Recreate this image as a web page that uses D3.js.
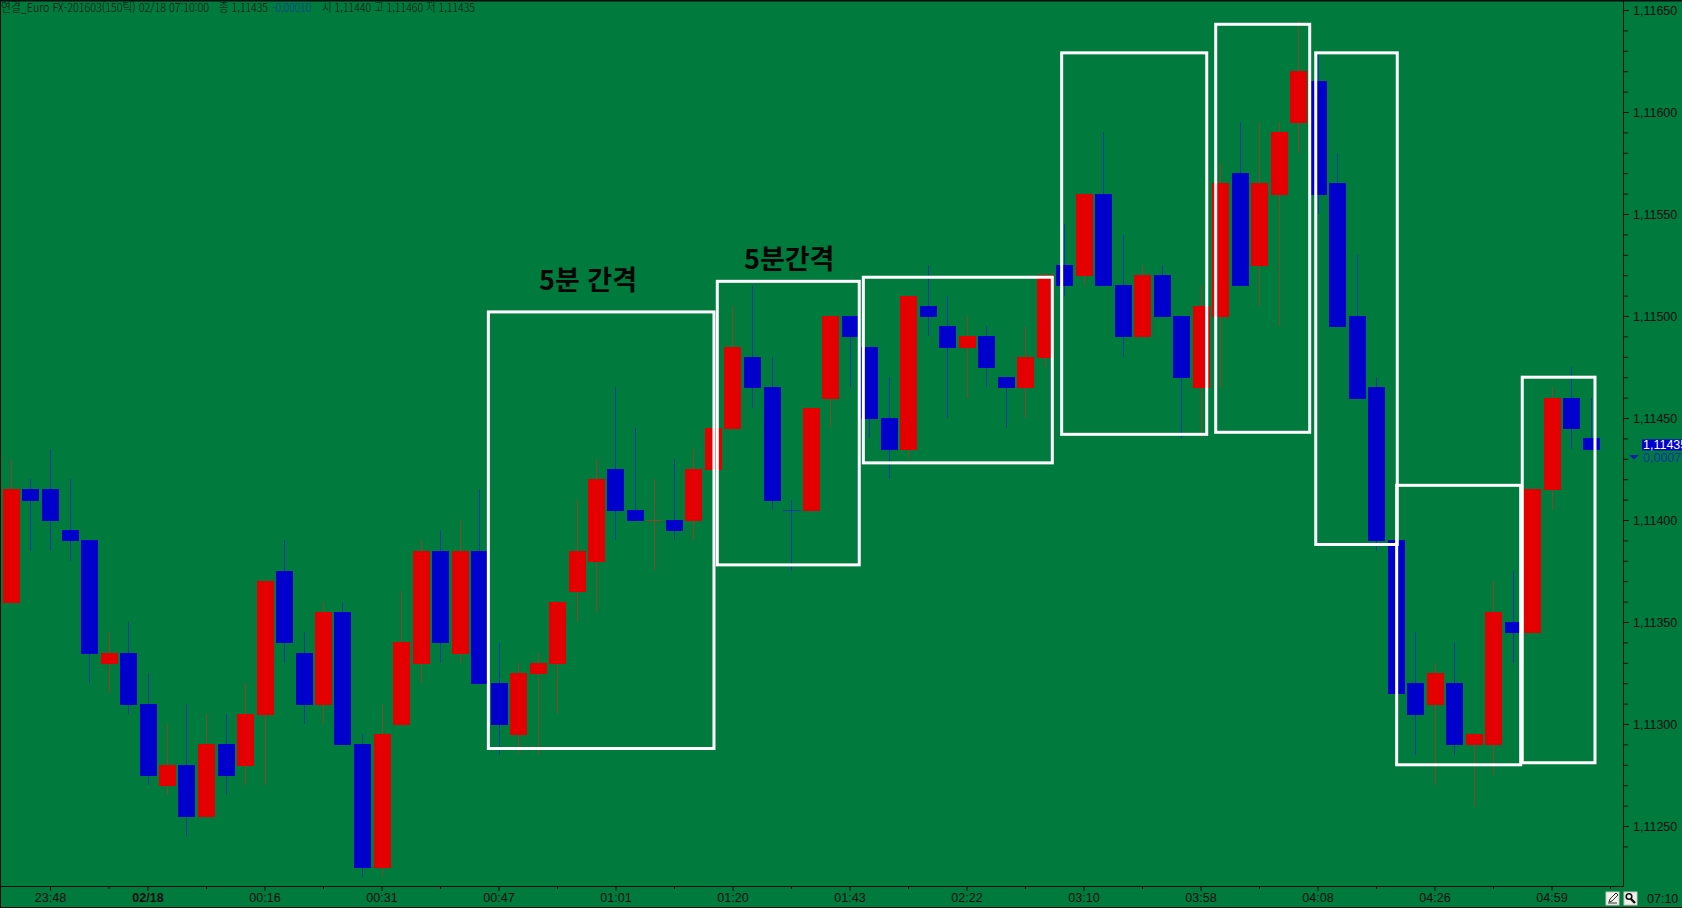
<!DOCTYPE html>
<html lang="ko">
<head>
<meta charset="utf-8">
<script src="https://cdn.jsdelivr.net/npm/d3@7/dist/d3.min.js"></script>
<style>
html,body{margin:0;padding:0;background:#007a3d;overflow:hidden}
svg{display:block}
text{font-family:"Liberation Sans Narrow","Liberation Sans",sans-serif;font-size:12.5px;fill:#0d0d0d}
.hdr{font-family:"Noto Sans CJK KR","Liberation Sans Narrow",sans-serif;font-size:12px;font-weight:300}
.note{font-family:"Noto Sans CJK KR",sans-serif;font-weight:700;font-size:27px;fill:#050505}
</style>
</head>
<body>
<svg id="chart" width="1682" height="908"></svg>
<script>
const opens  = [1.11360,1.11415,1.11415,1.11395,1.11390,1.11330,1.11335,1.11310,1.11270,1.11280,1.11255,1.11290,1.11280,1.11305,1.11375,1.11335,1.11310,1.11355,1.11290,1.11230,1.11300,1.11330,1.11385,1.11335,1.11385,1.11320,1.11295,1.11325,1.11330,1.11365,1.11380,1.11425,1.11405,1.11400,1.11400,1.11400,1.11425,1.11445,1.11480,1.11465,1.11405,1.11405,1.11460,1.11500,1.11485,1.11450,1.11435,1.11505,1.11495,1.11485,1.11490,1.11470,1.11465,1.11480,1.11525,1.11520,1.11560,1.11515,1.11490,1.11520,1.11500,1.11465,1.11500,1.11570,1.11525,1.11560,1.11595,1.11615,1.11565,1.11500,1.11465,1.11390,1.11320,1.11310,1.11320,1.11290,1.11290,1.11350,1.11345,1.11415,1.11460,1.11440];
const highs  = [1.11430,1.11420,1.11435,1.11420,1.11390,1.11345,1.11350,1.11325,1.11300,1.11310,1.11305,1.11305,1.11320,1.11370,1.11390,1.11345,1.11360,1.11360,1.11295,1.11310,1.11365,1.11390,1.11395,1.11400,1.11415,1.11340,1.11330,1.11335,1.11360,1.11410,1.11430,1.11465,1.11445,1.11420,1.11430,1.11435,1.11445,1.11505,1.11515,1.11480,1.11410,1.11455,1.11500,1.11500,1.11485,1.11470,1.11510,1.11525,1.11510,1.11500,1.11495,1.11470,1.11495,1.11520,1.11545,1.11560,1.11590,1.11540,1.11525,1.11525,1.11500,1.11515,1.11575,1.11595,1.11595,1.11595,1.11645,1.11630,1.11580,1.11530,1.11470,1.11420,1.11345,1.11330,1.11340,1.11295,1.11370,1.11375,1.11415,1.11465,1.11475,1.11460];
const lows   = [1.11360,1.11385,1.11385,1.11380,1.11320,1.11315,1.11305,1.11270,1.11265,1.11245,1.11255,1.11265,1.11270,1.11270,1.11330,1.11300,1.11300,1.11290,1.11225,1.11225,1.11300,1.11320,1.11330,1.11330,1.11320,1.11285,1.11285,1.11285,1.11305,1.11350,1.11355,1.11390,1.11400,1.11375,1.11390,1.11390,1.11425,1.11445,1.11455,1.11405,1.11375,1.11405,1.11445,1.11465,1.11440,1.11420,1.11430,1.11490,1.11450,1.11460,1.11465,1.11445,1.11450,1.11475,1.11510,1.11515,1.11515,1.11480,1.11490,1.11500,1.11440,1.11440,1.11465,1.11515,1.11505,1.11495,1.11580,1.11550,1.11495,1.11460,1.11385,1.11315,1.11285,1.11270,1.11285,1.11260,1.11275,1.11330,1.11345,1.11405,1.11435,1.11435];
const closes = [1.11415,1.11410,1.11400,1.11390,1.11335,1.11335,1.11310,1.11275,1.11280,1.11255,1.11290,1.11275,1.11305,1.11370,1.11340,1.11310,1.11355,1.11290,1.11230,1.11295,1.11340,1.11385,1.11340,1.11385,1.11320,1.11300,1.11325,1.11330,1.11360,1.11385,1.11420,1.11405,1.11400,1.11400,1.11395,1.11425,1.11445,1.11485,1.11465,1.11410,1.11405,1.11455,1.11500,1.11490,1.11450,1.11435,1.11510,1.11500,1.11485,1.11490,1.11475,1.11465,1.11480,1.11520,1.11515,1.11560,1.11515,1.11490,1.11520,1.11500,1.11470,1.11505,1.11565,1.11515,1.11565,1.11590,1.11620,1.11560,1.11495,1.11460,1.11390,1.11315,1.11305,1.11325,1.11290,1.11295,1.11355,1.11345,1.11415,1.11460,1.11445,1.11435];
const fallingDoji = [40];

const priceTickValues = [1.1165,1.116,1.1155,1.115,1.1145,1.114,1.1135,1.113,1.1125];
const priceTickLabels = ["1,11650","1,11600","1,11550","1,11500","1,11450","1,11400","1,11350","1,11300","1,11250"];
const timeTickSlots  = [2,7,13,19,25,31,37,43,49,55,61,67,73,79];
const timeTickLabels = ["23:48","02/18","00:16","00:31","00:47","01:01","01:20","01:43","02:22","03:10","03:58","04:08","04:26","04:59"];
const minorTimeSlots = [5,10,16,22,28,34,40,46,52,58,64,70,76,82];

// annotation rectangles: first slot, last slot, top price, bottom price
const boxes = [
  [24.48,36.05,1.11502,1.11288],
  [36.22,43.50,1.11517,1.11378],
  [43.71,53.40,1.11519,1.11428],
  [53.88,61.32,1.11629,1.11442],
  [61.78,66.60,1.11643,1.11443],
  [66.91,71.09,1.11629,1.11388],
  [71.06,77.42,1.11417,1.11280],
  [77.50,81.23,1.11470,1.11281]
];

const COL = {bg:"#007a3d", up:"#e40000", upEdge:"#b22a10", down:"#0000cc",
             upWick:"#7e4a2a", downWick:"#0a3ca8", ink:"#0d0d0d", box:"#ffffff"};

const svg = d3.select("#chart");
const x = d3.scaleLinear().domain([0,81]).range([11,1590.5]);
const y = d3.scaleLinear().domain([1.114,1.1165]).range([520,10]);
const BODY = 17, FRAME_R = 1623, FRAME_B = 886;

svg.append("rect").attr("width",1682).attr("height",908).attr("fill",COL.bg);

const candles = opens.map((o,i)=>({i,o,h:highs[i],l:lows[i],c:closes[i],
  up: closes[i] > o || (closes[i] === o && !fallingDoji.includes(i))}));

const g = svg.append("g");
g.selectAll("line.wick").data(candles).join("line").attr("class","wick")
  .attr("x1",d=>Math.round(x(d.i))+.5).attr("x2",d=>Math.round(x(d.i))+.5)
  .attr("y1",d=>Math.round(y(d.h))).attr("y2",d=>Math.round(y(d.l)))
  .attr("stroke",d=>d.up?COL.upWick:COL.downWick).attr("stroke-width",1);

g.selectAll("rect.body").data(candles).join("rect").attr("class","body")
  .attr("x",d=>Math.round(x(d.i))-8)
  .attr("width",BODY)
  .attr("y",d=>Math.round(y(Math.max(d.o,d.c))))
  .attr("height",d=>d.o===d.c?0:Math.round(y(Math.min(d.o,d.c)))-Math.round(y(Math.max(d.o,d.c)))+1)
  .attr("fill",d=>d.up?COL.up:COL.down);

// doji crossbars
g.selectAll("line.doji").data(candles.filter(d=>d.o===d.c)).join("line").attr("class","doji")
  .attr("x1",d=>Math.round(x(d.i))-8).attr("x2",d=>Math.round(x(d.i))+9)
  .attr("y1",d=>Math.round(y(d.o))+.5).attr("y2",d=>Math.round(y(d.o))+.5)
  .attr("stroke",d=>d.up?COL.upWick:COL.downWick);

// annotation boxes
svg.append("g").selectAll("rect").data(boxes).join("rect")
  .attr("x",d=>x(d[0])).attr("width",d=>x(d[1])-x(d[0]))
  .attr("y",d=>y(d[2])).attr("height",d=>y(d[3])-y(d[2]))
  .attr("fill","none").attr("stroke",COL.box).attr("stroke-width",3);

svg.append("text").attr("class","note").attr("x",539).attr("y",290).text("5분 간격");
svg.append("text").attr("class","note").attr("x",744).attr("y",269).text("5분간격");

// right price axis
const priceAxis = svg.append("g").attr("transform",`translate(${FRAME_R},0)`)
  .call(d3.axisRight(y).tickValues(priceTickValues)
    .tickFormat((d,i)=>priceTickLabels[i]).tickSize(6).tickPadding(4));
priceAxis.select(".domain").remove();
priceAxis.selectAll("line").attr("stroke",COL.ink);
priceAxis.selectAll("text").attr("fill",COL.ink).attr("dy","0.32em");
const minorPrices = d3.range(1.1124,1.11655,0.0001).filter(v=>y(v)<FRAME_B && Math.round(v*1e5)%50!==0);
svg.append("g").attr("transform",`translate(${FRAME_R},0)`)
  .call(d3.axisRight(y).tickValues(minorPrices).tickFormat("").tickSize(5))
  .call(s=>s.select(".domain").remove())
  .selectAll("line").attr("stroke",COL.ink);

// bottom time axis
const timeAxis = svg.append("g").attr("transform",`translate(0,${FRAME_B})`)
  .call(d3.axisBottom(x).tickValues(timeTickSlots)
    .tickFormat((d,i)=>timeTickLabels[i]).tickSize(5).tickPadding(2));
timeAxis.select(".domain").remove();
timeAxis.selectAll("line").attr("stroke",COL.ink);
timeAxis.selectAll("text").attr("fill",COL.ink)
  .style("font-weight",(d,i)=>timeTickLabels[i]==="02/18"?"bold":"normal");
svg.append("g").attr("transform",`translate(0,${FRAME_B})`)
  .call(d3.axisBottom(x).tickValues(minorTimeSlots).tickFormat("").tickSize(3))
  .call(s=>s.select(".domain").remove())
  .selectAll("line").attr("stroke",COL.ink);

// frame
const frame = [[0,0,1682,0],[0.5,0,0.5,908],[0,FRAME_B+.5,FRAME_R,FRAME_B+.5],[FRAME_R+.5,0,FRAME_R+.5,FRAME_B+1],[0,907.5,1682,907.5]];
svg.append("g").selectAll("line").data(frame).join("line")
  .attr("x1",d=>d[0]).attr("y1",d=>d[1]).attr("x2",d=>d[2]).attr("y2",d=>d[3])
  .attr("stroke",COL.ink).attr("stroke-width",(d,i)=>i===0?3:1);

// header
const header = [
  {t:"연결_Euro FX-201603(150틱) 02/18 07:10:00",x:1,w:208,c:COL.ink},
  {t:"종 1,11435",x:219,w:49,c:COL.ink},
  {t:"-0,00010",x:272,w:39,c:"#003aa0"},
  {t:"시 1,11440 고 1,11460 저 1,11435",x:322,w:153,c:COL.ink}
];
svg.append("g").selectAll("text").data(header).join("text").attr("class","hdr")
  .attr("x",d=>d.x).attr("y",12).attr("textLength",d=>d.w).attr("lengthAdjust","spacingAndGlyphs")
  .style("fill",d=>d.c).text(d=>d.t);

// last-price marker
const lastY = y(closes[closes.length-1]);
svg.append("rect").attr("x",1642).attr("width",40).attr("y",y(opens[opens.length-1])+1).attr("height",11).attr("fill",COL.down);
svg.append("text").attr("x",1643).attr("y",y(opens[opens.length-1])+11).style("fill","#fff").text("1,11435");
svg.append("text").attr("x",1643).attr("y",lastY+13).style("fill","#0030b0").text("0,00070");
svg.append("path").attr("d",`M1629,${lastY+6.5}h10l-5,4.5z`).attr("fill","#0a1fa8");

// bottom-right controls
const btn = svg.append("g");
btn.selectAll("rect").data([1606,1624]).join("rect")
  .attr("x",d=>d).attr("y",892).attr("width",13).attr("height",13)
  .attr("fill","#f2f2ea").attr("stroke","#c8c8c0");
btn.append("path").attr("d","M1609,902l1-3l6-6l2,2l-6,6zM1608,903h9").attr("fill","none").attr("stroke","#333").attr("stroke-width",1);
btn.append("circle").attr("cx",1629).attr("cy",896.5).attr("r",2.8).attr("fill","none").attr("stroke","#111").attr("stroke-width",1.6);
btn.append("path").attr("d","M1631,899l4,4").attr("stroke","#111").attr("stroke-width",2.4);
svg.append("text").attr("x",1647).attr("y",903).text("07:10");
</script>
</body>
</html>
